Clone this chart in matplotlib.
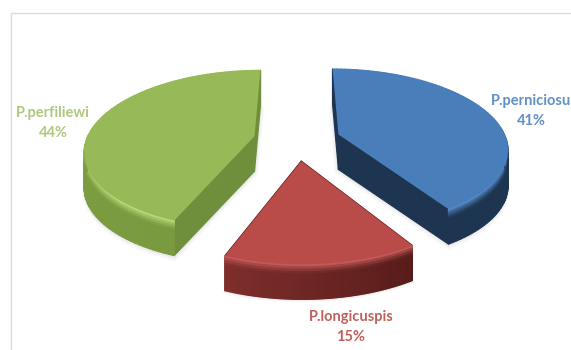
import numpy as np
import matplotlib
matplotlib.use('Agg')
import matplotlib.pyplot as plt
from matplotlib.collections import PolyCollection
from matplotlib.colors import to_rgb

names = ['P.perniciosu', 'P.longicuspis', 'P.perfiliewi']
values = [41, 15, 44]
explode = [0.26, 0.26, 0.26]
top_colors = ['#4a7ebb', '#b94c49', '#98b957']
wall_start = ['#1e3552', '#7f2e2c', '#80a146']
wall_end = ['#1e3552', '#571c1a', '#7a9a40']
cut_colors = ['#1e3552', '#571c1a', '#708f3c']
bevel_colors = ['#5488c4', '#c4595a', '#bad878']
label_colors = ['#5f90c8', '#c0605d', '#aec97c']
label_pos = [(531, 111), (351, 327), (53, 123)]

# projection of the pie plane to pixels (perspective, tilted)
cx, cy = 297, 140
A, B, k, depth = 168, 78, 0.167, 35


def proj(x, y, z=0.0):
    s = 1 + k * y
    return np.column_stack((cx + A * x / s, cy - B * y / s + depth * z + 0 * x))


def mix(a, b, t):
    a, b = np.array(to_rgb(a)), np.array(to_rgb(b))
    return tuple(a + (b - a) * t)


fig = plt.figure(figsize=(5.71, 3.5), dpi=100)
ax = fig.add_axes([0, 0, 1, 1])
wedges, _ = ax.pie(values, explode=explode, startangle=90, counterclock=False)
shapes = []
for w in wedges:
    shapes.append((w.center, w.theta1, w.theta2, w.r))
    w.remove()
ax.set_aspect('auto')
ax.set_xlim(0, 571)
ax.set_ylim(350, 0)
ax.axis('off')

# frame of the picture
ax.plot([571, 11, 11], [12.5, 12.5, 350], color='#dcdcdc', lw=1)

zs = np.linspace(0, 1, 15)
for (c, t1, t2, r), top, w0, w1, cut, bev in zip(shapes, top_colors, wall_start, wall_end, cut_colors, bevel_colors):
    th = np.radians(np.linspace(t1, t2, 90))
    rx, ry = c[0] + r * np.cos(th), c[1] + r * np.sin(th)
    outline_x = np.r_[c[0], rx]
    outline_y = np.r_[c[1], ry]

    # soft shadow under the piece
    for grow, alpha in [(5, 0.03), (3.5, 0.04), (2, 0.05)]:
        sh = proj(outline_x, outline_y, 1.0)
        mid = sh.mean(axis=0)
        sh = mid + (sh - mid) * (1 + grow / 150) + [0, grow * 0.6]
        ax.fill(sh[:, 0], sh[:, 1], color='#606060', alpha=alpha, lw=0, zorder=1)

    quads, cols, keys = [], [], []
    # rim wall
    for i in range(len(th) - 1):
        u = i / (len(th) - 2)
        pos = min(max((-np.sin(th[i])) ** 1.5 if np.sin(th[i]) < 0 else 0, 0), 1)
        for j in range(len(zs) - 1):
            p = proj(rx[i:i + 2], ry[i:i + 2], zs[j])
            q = proj(rx[i:i + 2], ry[i:i + 2], zs[j + 1])
            quads.append(np.vstack((p, q[::-1])))
            base = mix(w0, w1, u)
            b = zs[j] / 0.24
            if b < 1:
                hi = mix(top, bev, min(pos * 1.6, 1))
                col = mix(hi, base, b ** 0.8)
            else:
                col = base
            cols.append(col)
            keys.append(np.mean(q[:, 1]))
    # the two straight cuts
    for ex, ey in [(rx[0], ry[0]), (rx[-1], ry[-1])]:
        xs = np.array([c[0], ex])
        ys = np.array([c[1], ey])
        p = proj(xs, ys, 0)
        q = proj(xs, ys, 1)
        quads.append(np.vstack((p, q[::-1])))
        cols.append(to_rgb(cut))
        keys.append(np.mean(q[:, 1]))

    order = np.argsort(keys)
    ax.add_collection(PolyCollection([quads[i] for i in order], facecolors=[cols[i] for i in order],
                                     edgecolors='face', linewidths=0.9, zorder=2))
    pts = proj(outline_x, outline_y)
    ax.fill(pts[:, 0], pts[:, 1], color=top, lw=0, zorder=2)

for name, v, (lx, ly), col in zip(names, values, label_pos, label_colors):
    ax.text(lx, ly, '%s\n%d%%' % (name, v), color=col, ha='center', va='center',
            family='Lato', weight='bold', fontsize=10.5, linespacing=1.5, zorder=3)

plt.savefig('out.png', dpi=100)
